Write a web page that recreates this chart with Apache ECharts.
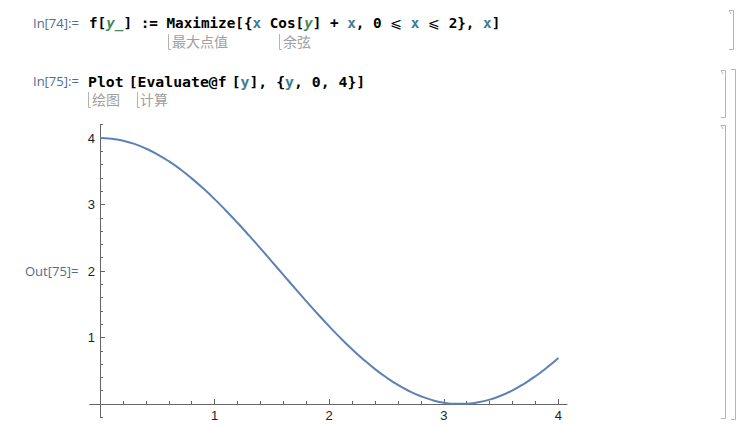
<!DOCTYPE html>
<html>
<head>
<meta charset="utf-8">
<style>html,body{margin:0;padding:0;background:#fff;}#c{width:742px;height:427px;}</style>
<script src="https://cdn.jsdelivr.net/npm/echarts@6/dist/echarts.min.js"></script>
</head>
<body>
<div id="c"></div>
<script>
// ---- data ----
var yValues = [0,0.1,0.2,0.3,0.4,0.5,0.6,0.7,0.8,0.9,1.0,1.1,1.2,1.3,1.4,1.5,1.6,1.7,1.8,1.9,2.0,
               2.1,2.2,2.3,2.4,2.5,2.6,2.7,2.8,2.9,3.0,3.1,3.2,3.3,3.4,3.5,3.6,3.7,3.8,3.9,4.0];
var fValues = [4.000,3.990,3.960,3.911,3.842,3.755,3.651,3.530,3.393,3.243,3.081,2.907,2.725,2.535,2.340,2.141,
               1.942,1.742,1.546,1.353,1.168,0.990,0.823,0.667,0.525,0.398,0.286,0.192,0.116,0.058,0.020,
               0.002,0.003,0.025,0.066,0.127,0.206,0.304,0.418,0.548,0.693];
var xTickLabels = ['1','2','3','4'];
var yTickLabels = ['1','2','3','4'];

var seriesData = yValues.map(function(v,i){return [v,fValues[i]];});

var chart = echarts.init(document.getElementById('c'), null, {renderer:'svg'});

var axisColor = '#666';
var labelFont = 'Liberation Sans';
var mono = '"DejaVu Sans Mono", "Liberation Mono", monospace';
var cellLbl = '#4e6e8e';
var annColor = '#a0a0a0';
var brColor = '#b4b4b4';

function hideZero(list){ return function(v){ var s = String(Math.round(v)); return list.indexOf(s) >= 0 && Math.abs(v - Math.round(v)) < 1e-9 ? s : ''; }; }

var mctx = document.createElement('canvas').getContext('2d');
function codeStyles(size){
  return {
    k:{fill:'#000', font:'bold '+size+'px '+mono},
    g:{fill:'#438958', font:'italic bold '+size+'px '+mono},
    b:{fill:'#3c7d91', font:'bold '+size+'px '+mono},
    le:{fill:'#000', font:size+'px "DejaVu Sans"'}
  };
}
// segs: [text, styleKey, gapBefore]
function codeLine(x, y, size, segs){
  var st = codeStyles(size), out = [], cx = x;
  segs.forEach(function(s){
    cx += (s[2] || 0);
    var sty = st[s[1]];
    out.push({type:'text', x:cx, y:y, silent:true,
      style:{text:s[0], fill:sty.fill, font:sty.font, verticalAlign:'middle', align:'left'}});
    mctx.font = sty.font;
    cx += mctx.measureText(s[0]).width;
  });
  return out;
}

function line(points){ return {type:'polyline', shape:{points:points}, style:{stroke:brColor, lineWidth:1, fill:null}, silent:true}; }
function annBracket(x, y1, y2){ return line([[x+0.5,y1],[x+0.5,y2+0.5],[x+3,y2+0.5]]); }

var line1 = codeLine(89, 23, 14.3, [
  ['f[','k'],['y_','g'],['] := Maximize[{','k'],['x','b'],[' Cos[','k'],['y','g'],['] + ','k'],['x','b'],
  [', 0 ','k'],['⩽','le'],[' ','k'],['x','b'],[' ','k'],['⩽','le'],[' 2}, ','k'],['x','b'],[']','k']
]);
var line2 = codeLine(88, 81, 14.8, [
  ['Plot','k'],['[','k',5],['Evaluate@f','k'],['[','k',5],['y','b'],['], {','k'],['y','b'],[', 0, 4}]','k']
]);

var graphics = [
  {type:'text', x:33, y:23, style:{text:'In[74]:=', fill:cellLbl, font:'13px "Open Sans"', verticalAlign:'middle'}},
  annBracket(168, 34, 49),
  {type:'text', x:172, y:41, style:{text:'最大点值', fill:annColor, font:'14px "Noto Sans CJK SC"', verticalAlign:'middle'}},
  annBracket(279, 34, 49),
  {type:'text', x:283, y:41, style:{text:'余弦', fill:annColor, font:'14px "Noto Sans CJK SC"', verticalAlign:'middle'}},

  {type:'text', x:33, y:81, style:{text:'In[75]:=', fill:cellLbl, font:'13px "Open Sans"', verticalAlign:'middle'}},
  annBracket(88, 92, 107),
  {type:'text', x:92, y:99, style:{text:'绘图', fill:annColor, font:'14px "Noto Sans CJK SC"', verticalAlign:'middle'}},
  annBracket(137, 92, 107),
  {type:'text', x:140, y:99, style:{text:'计算', fill:annColor, font:'14px "Noto Sans CJK SC"', verticalAlign:'middle'}},

  {type:'text', x:25, y:271, style:{text:'Out[75]=', fill:cellLbl, font:'13px "Open Sans"', verticalAlign:'middle'}},

  // cell brackets
  line([[729,10.5],[733.5,10.5],[733.5,49.5],[729,49.5]]),
  line([[729,10.5],[731,14]]),
  line([[721,70.5],[725.5,70.5],[725.5,117.5],[721,117.5]]),
  line([[721,70.5],[723,74]]),
  line([[721,125.5],[725.5,125.5],[725.5,418.5],[721,418.5]]),
  line([[721,125.5],[723,129]]),
  line([[731,69.5],[735.5,69.5],[735.5,419.5],[731,419.5]])
].concat(line1, line2);

var option = {
  animation:false,
  backgroundColor:'#fff',
  grid:[
    {left:89.7, right:175, top:124.7, bottom:9.7, outerBoundsMode:'none'},
    {left:100, right:183.6, top:138, bottom:23, outerBoundsMode:'none'}
  ],
  xAxis:[
    {type:'value', gridIndex:0, min:-0.09, max:4.075,
     axisLine:{show:true, onZero:true, lineStyle:{color:axisColor, width:1}},
     axisTick:{show:false}, axisLabel:{show:false}, splitLine:{show:false}},
    {type:'value', gridIndex:1, min:0, max:4, interval:1,
     axisLine:{show:false},
     axisTick:{show:true, inside:true, length:5, lineStyle:{color:axisColor}},
     minorTick:{show:true, splitNumber:5, length:3, lineStyle:{color:axisColor}},
     axisLabel:{show:true, margin:5, color:'#222', fontFamily:labelFont, fontSize:13, formatter:hideZero(xTickLabels)},
     splitLine:{show:false}}
  ],
  yAxis:[
    {type:'value', gridIndex:0, min:-0.2, max:4.2, interval:0.2,
     axisLine:{show:true, onZero:true, lineStyle:{color:axisColor, width:1}},
     axisTick:{show:true, inside:true, length:3, lineStyle:{color:axisColor}},
     axisLabel:{show:false}, splitLine:{show:false}},
    {type:'value', gridIndex:1, min:0, max:4, interval:1,
     axisLine:{show:false},
     axisTick:{show:true, inside:true, length:5, lineStyle:{color:axisColor}},
     axisLabel:{show:true, margin:5, color:'#222', fontFamily:labelFont, fontSize:13, formatter:hideZero(yTickLabels)},
     splitLine:{show:false}}
  ],
  series:[{
    type:'line', xAxisIndex:1, yAxisIndex:1, data:seriesData, smooth:true, showSymbol:false, symbol:'none',
    clip:false, lineStyle:{color:'#5e81b5', width:2}
  }],
  graphic:graphics
};
chart.setOption(option);
</script>
</body>
</html>
